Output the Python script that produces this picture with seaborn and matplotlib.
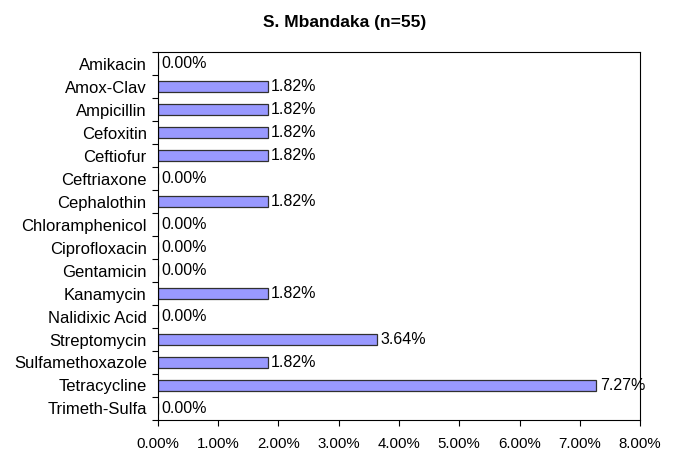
import numpy as np
import pandas as pd
import matplotlib.pyplot as plt
import matplotlib.ticker as mticker
import seaborn as sns

drugs = ['Amikacin', 'Amox-Clav', 'Ampicillin', 'Cefoxitin', 'Ceftiofur', 'Ceftriaxone',
         'Cephalothin', 'Chloramphenicol', 'Ciprofloxacin', 'Gentamicin', 'Kanamycin',
         'Nalidixic Acid', 'Streptomycin', 'Sulfamethoxazole', 'Tetracycline', 'Trimeth-Sulfa']
pct = [0.0, 1.82, 1.82, 1.82, 1.82, 0.0, 1.82, 0.0, 0.0, 0.0, 1.82, 0.0, 3.64, 1.82, 7.27, 0.0]

df = pd.DataFrame({'drug': drugs, 'pct': pct})

sns.set_style('white')
plt.rcParams['font.family'] = ['Liberation Sans', 'DejaVu Sans']
# plain black text like the original spreadsheet chart
plt.rcParams.update({'text.color': 'black', 'xtick.color': 'black',
                     'ytick.color': 'black', 'axes.labelcolor': 'black'})

fig = plt.figure(figsize=(6.89, 4.54), dpi=100)
ax = fig.add_axes([0.229, 0.075, 0.7, 0.81])

sns.barplot(data=df, x='pct', y='drug', color='#9999FF', saturation=1, width=0.46,
            edgecolor='#303030', linewidth=0.9, ax=ax)

for i, v in enumerate(pct):
    ax.text(v + 0.06, i, '%.2f%%' % v, va='center', ha='left', fontsize=11.5)

ax.set_xlim(0, 8)
ax.set_ylim(len(drugs) - 0.5, -0.5)
ax.xaxis.set_major_locator(mticker.MultipleLocator(1))
ax.xaxis.set_major_formatter(mticker.FuncFormatter(lambda x, p: '%.2f%%' % x))
ax.set_yticks(np.arange(len(drugs)))
ax.set_yticklabels(drugs)
ax.set_yticks(np.arange(-0.5, len(drugs), 1), minor=True)
ax.tick_params(axis='y', which='major', length=0, labelsize=12, pad=8)
ax.tick_params(axis='y', which='minor', length=4, width=0.8, direction='out', left=True)
ax.tick_params(axis='x', length=4, width=0.8, direction='out', bottom=True, labelsize=10.8, pad=8)
ax.set_xlabel('')
ax.set_ylabel('')
for s in ax.spines.values():
    s.set_color('black')
    s.set_linewidth(0.8)

fig.suptitle('S. Mbandaka (n=55)', fontsize=12.5, fontweight='bold', y=0.968)

fig.savefig('out.png', dpi=100)
